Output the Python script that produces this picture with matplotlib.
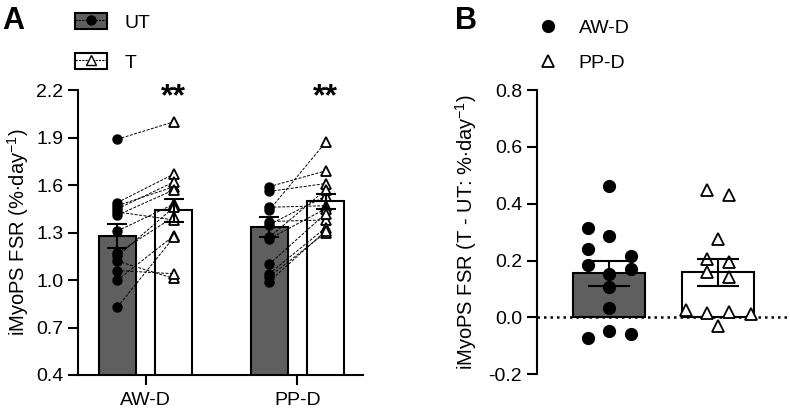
import numpy as np
import matplotlib
matplotlib.use('Agg')
import matplotlib.pyplot as plt
from matplotlib.patches import Patch
from matplotlib.lines import Line2D

plt.rcParams['font.family'] = ['Liberation Sans', 'DejaVu Sans']
plt.rcParams['mathtext.fontset'] = 'custom'
plt.rcParams['mathtext.rm'] = 'Liberation Sans'
plt.rcParams['axes.linewidth'] = 1.5

groups = ['AW-D', 'PP-D']

# panel A: paired FSR per participant (untrained vs trained leg)
awd_ut = [1.89, 1.49, 1.47, 1.45, 1.43, 1.41, 1.31, 1.17, 1.15, 1.12, 1.06, 1.00, 0.83]
awd_t = [2.00, 1.67, 1.59, 1.62, 1.38, 1.57, 1.48, 1.40, 1.46, 1.01, 1.04, 1.28, 1.27]
ppd_ut = [1.59, 1.56, 1.46, 1.44, 1.37, 1.35, 1.27, 1.26, 1.10, 1.04, 1.02, 0.99]
ppd_t = [1.69, 1.61, 1.47, 1.87, 1.38, 1.53, 1.57, 1.45, 1.42, 1.33, 1.30, 1.31]
ut_mean = [1.28, 1.335]
ut_sem = [0.077, 0.061]
t_mean = [1.44, 1.497]
t_sem = [0.072, 0.050]

# panel B: T - UT difference
awd_diff = [0.463, 0.316, 0.285, 0.240, 0.216, 0.185, 0.171, 0.152, 0.108, 0.034, -0.047, -0.057, -0.071]
awd_col = [0, -2, 0, -2, 2, -2, 2, 0, 0, 0, 0, 2, -2]
ppd_diff = [0.449, 0.432, 0.275, 0.206, 0.196, 0.159, 0.143, 0.026, 0.018, 0.014, 0.012, -0.030]
ppd_col = [-1, 1, 0, -1, 1, -1, 1, -3, 1, -1, 3, 0]
diff_mean = [0.155, 0.159]
diff_sem = [0.045, 0.047]

gray = '#5f5f5f'
fig = plt.figure(figsize=(7.9, 4.11), dpi=100)

# ---------- panel A ----------
axA = fig.add_axes([0.0987, 0.0876, 0.361, 0.693])
x = np.arange(len(groups))
off = 0.186
w = 0.245
axA.bar(x - off, ut_mean, w, color=gray, edgecolor='black', linewidth=1.5, zorder=1)
axA.bar(x + off, t_mean, w, color='white', edgecolor='black', linewidth=1.5, zorder=1)

for i, (ut, t) in enumerate([(awd_ut, awd_t), (ppd_ut, ppd_t)]):
    for a, b in zip(ut, t):
        axA.plot([i - off, i + off], [a, b], color='black', lw=0.7, ls=(0, (3, 1.5)), zorder=2)
    axA.plot(np.full(len(ut), i - off), ut, 'o', color='black', ms=6.5, zorder=3)
    axA.plot(np.full(len(t), i + off), t, '^', mfc='white', mec='black', mew=1.3, ms=7, zorder=3)

axA.errorbar(x - off, ut_mean, yerr=ut_sem, fmt='none', ecolor='black', elinewidth=1.5, capsize=7, capthick=1.5, zorder=4)
axA.errorbar(x + off, t_mean, yerr=t_sem, fmt='none', ecolor='black', elinewidth=1.5, capsize=7, capthick=1.5, zorder=4)

for i in x:
    axA.text(i + off, 2.105, '**', ha='center', va='baseline', fontsize=23, fontweight='bold')

axA.set_xlim(-0.446, 1.434)
axA.set_ylim(0.4, 2.2)
axA.set_yticks(np.arange(0.4, 2.21, 0.3))
axA.set_yticklabels([f'{v:.1f}' for v in np.arange(0.4, 2.21, 0.3)])
axA.set_xticks(x)
axA.set_xticklabels(groups)
axA.tick_params(labelsize=14, length=7, width=1.5)
axA.tick_params(axis='x', pad=5)
axA.spines['top'].set_visible(False)
axA.spines['right'].set_visible(False)
axA.set_ylabel(r'iMyoPS FSR (%$\cdot$day$^{-1}$)', fontsize=14.5, labelpad=4)

legA = [(Patch(facecolor=gray, edgecolor='black', linewidth=1.5),
         Line2D([], [], color='black', ls=(0, (2, 1)), lw=0.8, marker='o', ms=6.5)),
        (Patch(facecolor='white', edgecolor='black', linewidth=1.5),
         Line2D([], [], color='black', ls=(0, (2, 1)), lw=0.8, marker='^', mfc='white', mec='black', ms=7))]
fig.legend(legA, ['UT', 'T'], loc='upper left', bbox_to_anchor=(75 / 790, 1 - 13 / 411),
           frameon=False, fontsize=14, handlelength=1.65, handleheight=0.88, handletextpad=0.9,
           labelspacing=1.1, borderpad=0, borderaxespad=0, numpoints=1)

# ---------- panel B ----------
axB = fig.add_axes([0.6794, 0.0893, 0.3206, 0.6917])
axB.bar(x, diff_mean, 0.66, color=[gray, 'white'], edgecolor='black', linewidth=1.5, zorder=1)
axB.axhline(0, color='black', lw=1.8, ls=(0, (1, 1.6)), zorder=2)
step = 0.1
axB.plot(0 + np.array(awd_col) * step, awd_diff, 'o', color='black', ms=8.5, zorder=3)
axB.plot(1 + np.array(ppd_col) * step, ppd_diff, '^', mfc='white', mec='black', mew=1.3, ms=8, zorder=3)
axB.errorbar(x, diff_mean, yerr=diff_sem, fmt='none', ecolor='black', elinewidth=1.5, capsize=15, capthick=1.5, zorder=4)

axB.set_xlim(-0.666, 1.658)
axB.set_ylim(-0.2, 0.8)
axB.set_yticks(np.arange(-0.2, 0.81, 0.2))
axB.set_yticklabels([f'{v:.1f}' if abs(v) > 1e-9 else '0.0' for v in np.arange(-0.2, 0.81, 0.2)])
axB.set_xticks([])
axB.tick_params(labelsize=14, length=7, width=1.5)
for s in ['top', 'right', 'bottom']:
    axB.spines[s].set_visible(False)
axB.set_ylabel(r'iMyoPS FSR (T - UT: %$\cdot$day$^{-1}$)', fontsize=14.5, labelpad=7)

legB = [Line2D([], [], ls='none', marker='o', color='black', ms=8.5),
        Line2D([], [], ls='none', marker='^', mfc='white', mec='black', mew=1.3, ms=8)]
fig.legend(legB, ['AW-D', 'PP-D'], loc='upper left', bbox_to_anchor=(538 / 790, 1 - 19 / 411),
           frameon=False, fontsize=14, handlelength=1.0, handletextpad=1.1,
           labelspacing=0.9, borderpad=0, borderaxespad=0, numpoints=1)

fig.text(2 / 790, 1 - 6 / 411, 'A', fontsize=22, fontweight='bold', va='top', ha='left')
fig.text(455 / 790, 1 - 6 / 411, 'B', fontsize=22, fontweight='bold', va='top', ha='left')

fig.savefig('out.png', dpi=100)
